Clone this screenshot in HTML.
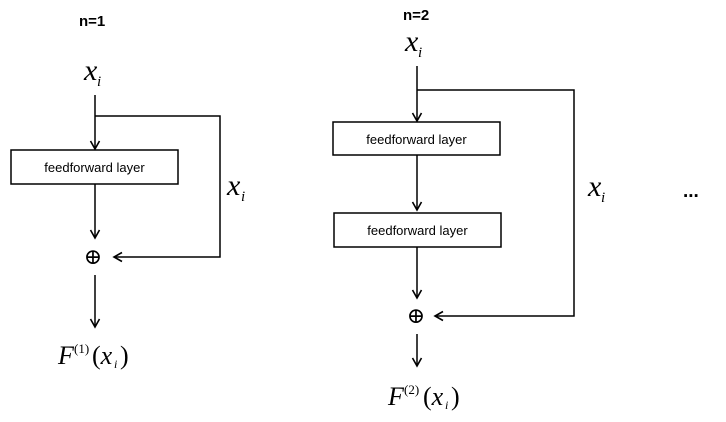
<!DOCTYPE html>
<html><head><style>
body{margin:0;background:#fff;}
svg{display:block}
.m{font-family:"Liberation Serif",serif;font-style:italic;}
.s{font-family:"Liberation Sans",sans-serif;}
</style></head><body>
<svg width="726" height="422" viewBox="0 0 726 422" xmlns="http://www.w3.org/2000/svg">
<defs><marker id="a" markerWidth="12" markerHeight="12" refX="9" refY="6" orient="auto" markerUnits="userSpaceOnUse"><path d="M1,1.5 L9,6 L1,10.5" fill="none" stroke="#000" stroke-width="1.6"/></marker></defs>
<g stroke="#000" stroke-width="1.5" fill="none">
<line x1="95" y1="95" x2="95" y2="149" marker-end="url(#a)"/>
<polyline points="95,116 220,116 220,257 114,257" marker-end="url(#a)"/>
<rect x="11" y="150" width="167" height="34"/>
<line x1="95" y1="184" x2="95" y2="238" marker-end="url(#a)"/>
<line x1="95" y1="275" x2="95" y2="327" marker-end="url(#a)"/>
<line x1="417" y1="66" x2="417" y2="121" marker-end="url(#a)"/>
<polyline points="417,90 574,90 574,316 435,316" marker-end="url(#a)"/>
<rect x="333" y="122" width="167" height="33"/>
<line x1="417" y1="155" x2="417" y2="210" marker-end="url(#a)"/>
<rect x="334" y="213" width="167" height="34"/>
<line x1="417" y1="247" x2="417" y2="298" marker-end="url(#a)"/>
<line x1="417" y1="334" x2="417" y2="366" marker-end="url(#a)"/>
</g>
<g fill="#000">
<text x="79" y="26" class="s" font-weight="bold" font-size="15">n=1</text>
<text x="403" y="20" class="s" font-weight="bold" font-size="15">n=2</text>
<text x="84" y="80" class="m" font-size="30">x</text><text x="97" y="86" class="m" font-size="15">i</text>
<text x="405" y="51" class="m" font-size="30">x</text><text x="418" y="57" class="m" font-size="15">i</text>
<text x="227" y="195" class="m" font-size="30">x</text><text x="241" y="201" class="m" font-size="15">i</text>
<text x="588" y="196" class="m" font-size="30">x</text><text x="601" y="202" class="m" font-size="15">i</text>
<text x="683" y="197" class="s" font-weight="bold" font-size="19">...</text>
<text x="94.5" y="172" class="s" font-size="13" text-anchor="middle">feedforward layer</text>
<text x="416.5" y="144" class="s" font-size="13" text-anchor="middle">feedforward layer</text>
<text x="417.5" y="235" class="s" font-size="13" text-anchor="middle">feedforward layer</text>
<text x="93" y="264" font-family="DejaVu Serif,serif" font-size="22" text-anchor="middle">⊕</text>
<text x="416" y="323" font-family="DejaVu Serif,serif" font-size="22" text-anchor="middle">⊕</text>
<text x="58" y="364" class="m" font-size="26">F</text><text x="74" y="353" font-family="Liberation Serif,serif" font-size="13">(1)</text><text x="92" y="364" font-family="Liberation Serif,serif" font-size="26">(<tspan class="m">x</tspan></text><text x="114" y="368" class="m" font-size="12">i</text><text x="120" y="364" font-family="Liberation Serif,serif" font-size="26">)</text>
<text x="388" y="405" class="m" font-size="26">F</text><text x="404" y="394" font-family="Liberation Serif,serif" font-size="13">(2)</text><text x="423" y="405" font-family="Liberation Serif,serif" font-size="26">(<tspan class="m">x</tspan></text><text x="445" y="409" class="m" font-size="12">i</text><text x="451" y="405" font-family="Liberation Serif,serif" font-size="26">)</text>
</g>
</svg>
</body></html>
